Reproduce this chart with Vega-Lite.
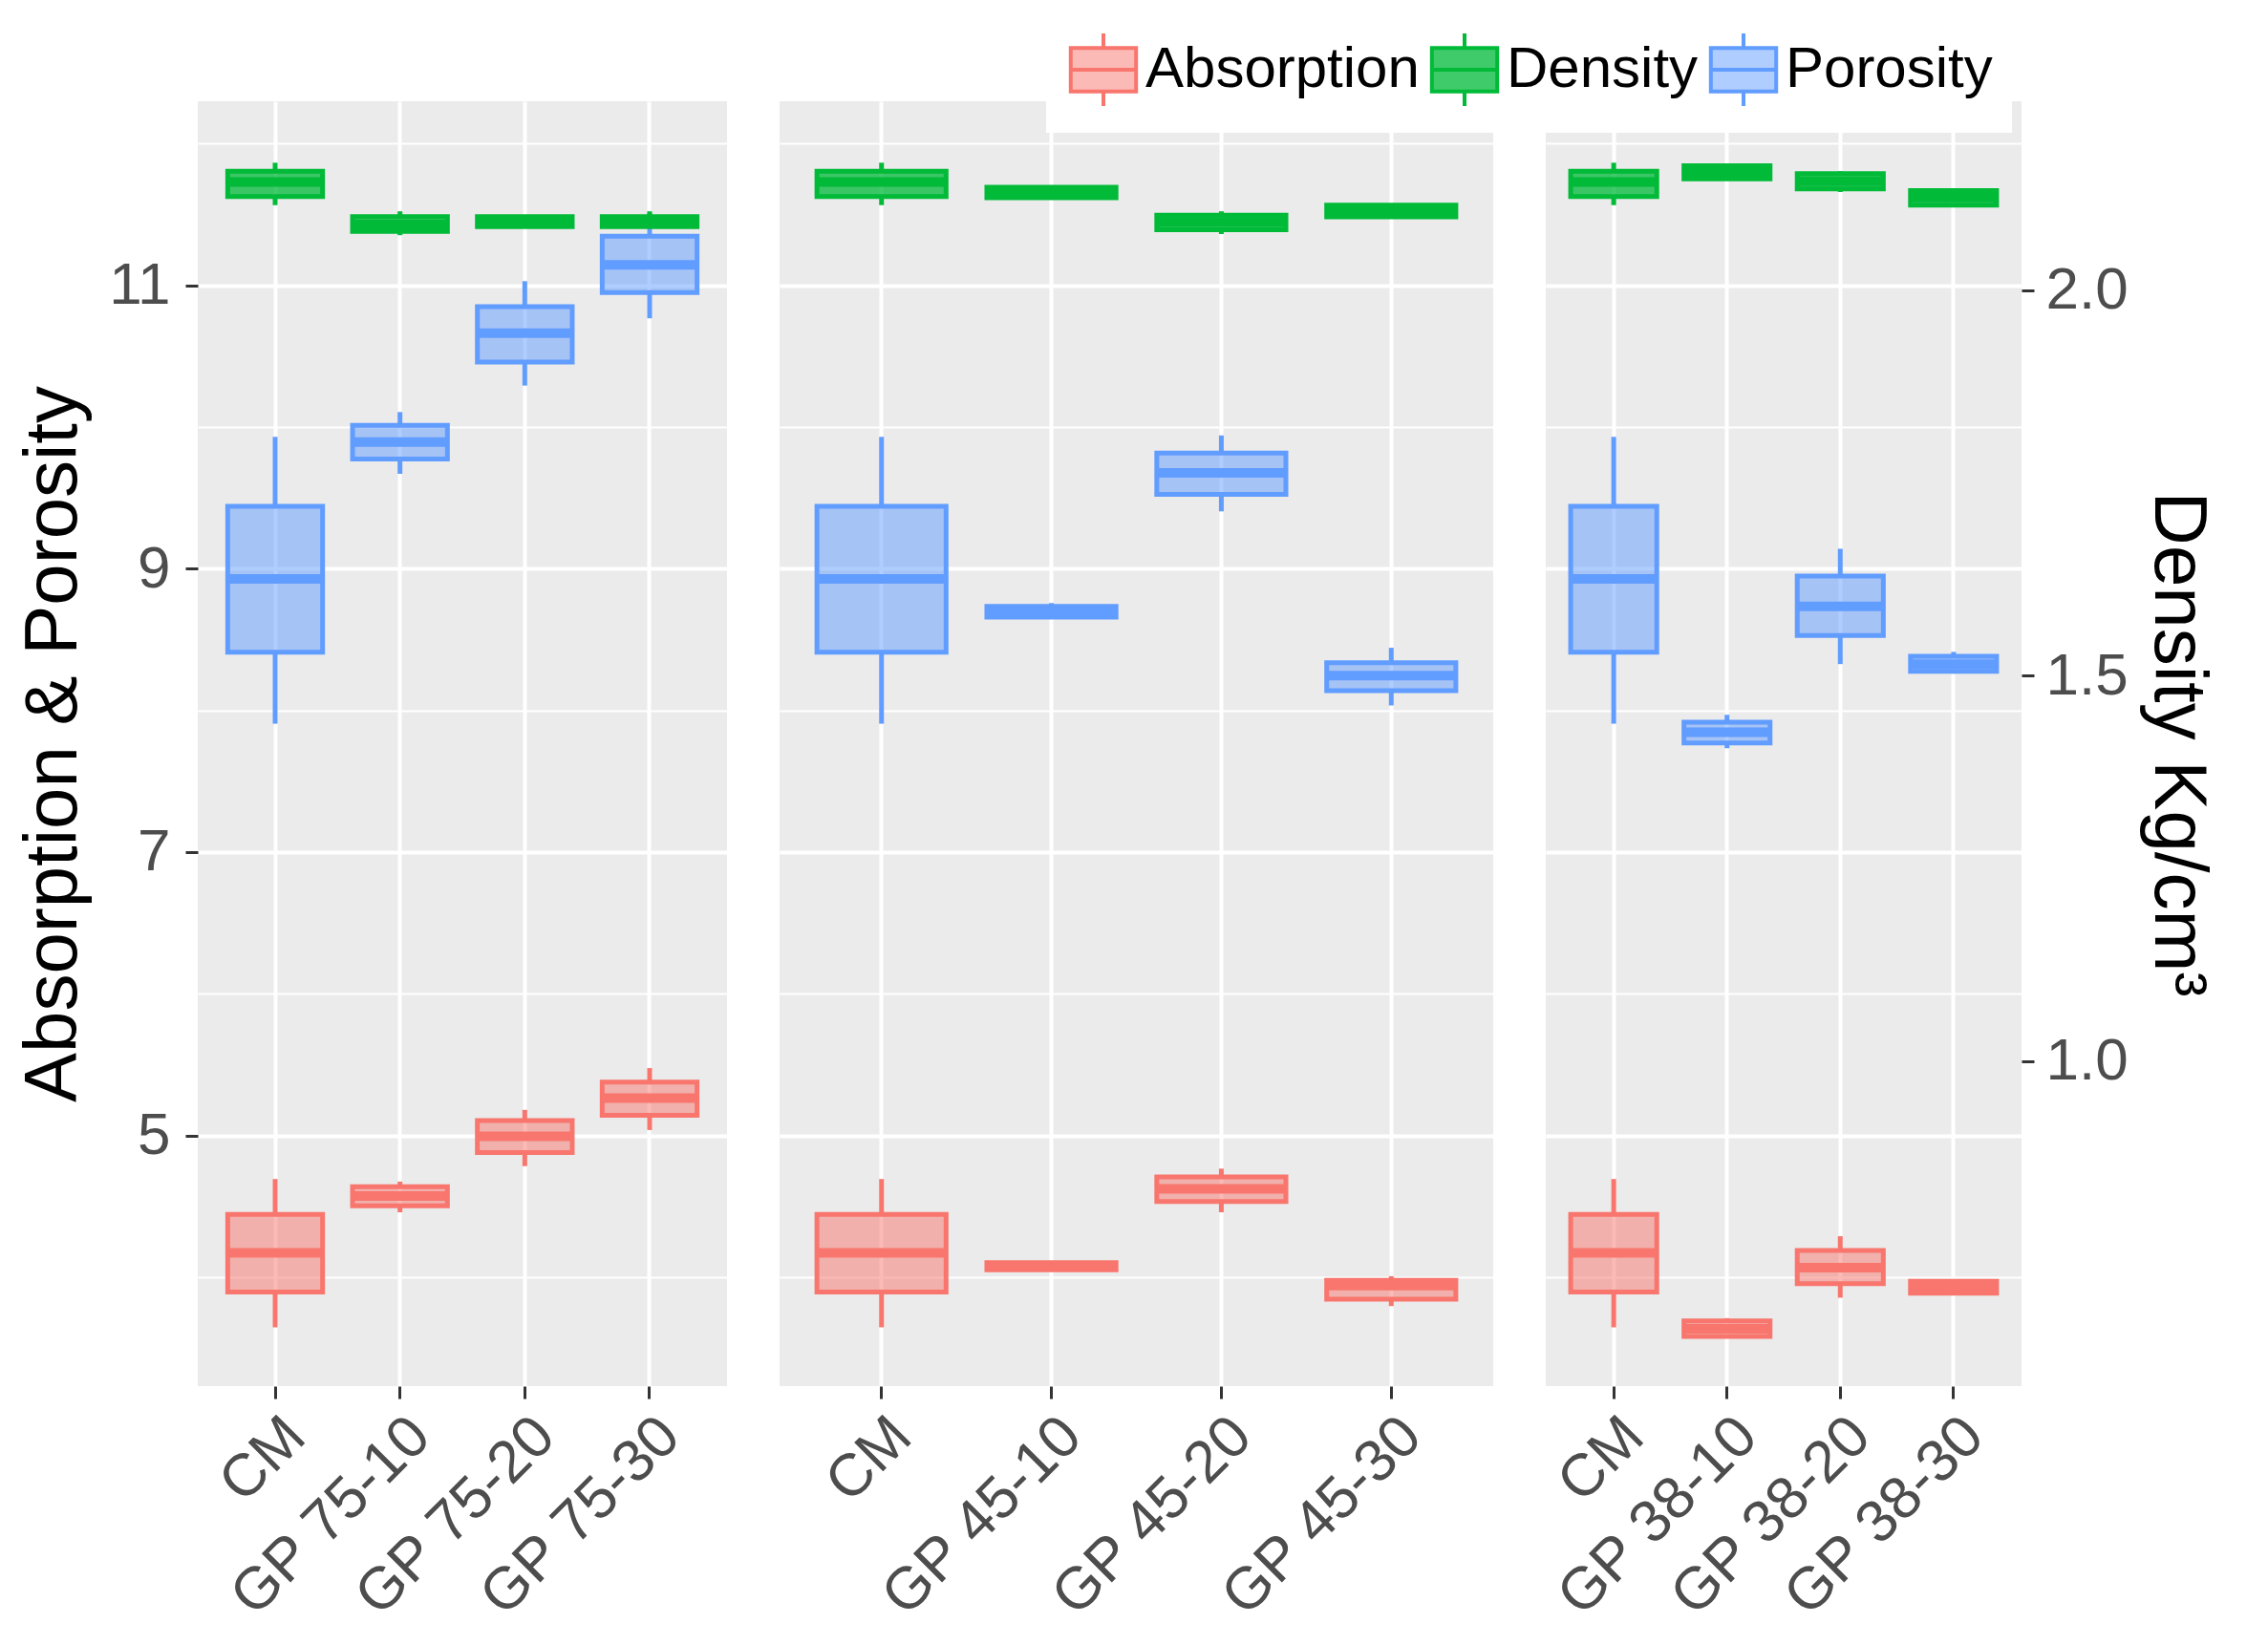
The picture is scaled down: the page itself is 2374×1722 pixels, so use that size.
{
  "$schema": "https://vega.github.io/schema/vega-lite/v6.json",
  "padding": {"left": 17, "top": 13, "right": 10, "bottom": 5},
  "background": "white",
  "config": {
    "font": "Liberation Sans",
    "view": {"fill": "#EBEBEB", "stroke": null},
    "axis": {
      "labelFont": "Liberation Sans", "labelFontSize": 62, "labelColor": "#4D4D4D",
      "titleFont": "Liberation Sans", "titleFontSize": 78, "titleFontWeight": "normal", "titleColor": "black",
      "tickColor": "#333333", "tickWidth": 3, "tickSize": 13, "domain": false, "gridColor": "white", "labelLimit": 1000
    },
    "legend": {
      "orient": "none", "legendX": 888, "legendY": -93, "direction": "horizontal",
      "fillColor": "white", "padding": 20,
      "symbolType": "M-0.9,-0.6H0.9V0.6H-0.9Z M0,-0.6V-1 M0,0.6V1 M-0.9,0H0.9",
      "symbolSize": 5776, "symbolStrokeWidth": 4,
      "labelFontSize": 60, "labelFont": "Liberation Sans", "labelColor": "black",
      "labelOffset": 4, "columnPadding": 4, "zindex": 1, "labelLimit": 1000
    }
  },
  "datasets": {
    "stats": [
      {"panel": "GP75", "group": "CM", "measure": "Absorption", "lower": 3.645, "q1": 3.895, "median": 4.171, "q3": 4.442, "upper": 4.692},
      {"panel": "GP75", "group": "CM", "measure": "Porosity", "lower": 7.906, "q1": 8.411, "median": 8.929, "q3": 9.441, "upper": 9.931},
      {"panel": "GP75", "group": "CM", "measure": "Density", "lower": 2.110, "q1": 2.121, "median": 2.140, "q3": 2.154, "upper": 2.165},
      {"panel": "GP75", "group": "GP 75-10", "measure": "Absorption", "lower": 4.457, "q1": 4.503, "median": 4.572, "q3": 4.638, "upper": 4.674},
      {"panel": "GP75", "group": "GP 75-10", "measure": "Porosity", "lower": 9.670, "q1": 9.775, "median": 9.895, "q3": 10.013, "upper": 10.106},
      {"panel": "GP75", "group": "GP 75-10", "measure": "Density", "lower": 2.071, "q1": 2.076, "median": 2.085, "q3": 2.095, "upper": 2.102},
      {"panel": "GP75", "group": "GP 75-20", "measure": "Absorption", "lower": 4.783, "q1": 4.879, "median": 4.993, "q3": 5.105, "upper": 5.180},
      {"panel": "GP75", "group": "GP 75-20", "measure": "Porosity", "lower": 10.293, "q1": 10.459, "median": 10.663, "q3": 10.850, "upper": 11.030},
      {"panel": "GP75", "group": "GP 75-20", "measure": "Density", "lower": 2.080, "q1": 2.082, "median": 2.088, "q3": 2.095, "upper": 2.097},
      {"panel": "GP75", "group": "GP 75-30", "measure": "Absorption", "lower": 5.038, "q1": 5.141, "median": 5.264, "q3": 5.376, "upper": 5.475},
      {"panel": "GP75", "group": "GP 75-30", "measure": "Porosity", "lower": 10.768, "q1": 10.949, "median": 11.145, "q3": 11.347, "upper": 11.512},
      {"panel": "GP75", "group": "GP 75-30", "measure": "Density", "lower": 2.080, "q1": 2.082, "median": 2.088, "q3": 2.095, "upper": 2.102},

      {"panel": "GP45", "group": "CM", "measure": "Absorption", "lower": 3.645, "q1": 3.895, "median": 4.171, "q3": 4.442, "upper": 4.692},
      {"panel": "GP45", "group": "CM", "measure": "Porosity", "lower": 7.906, "q1": 8.411, "median": 8.929, "q3": 9.441, "upper": 9.931},
      {"panel": "GP45", "group": "CM", "measure": "Density", "lower": 2.110, "q1": 2.121, "median": 2.140, "q3": 2.154, "upper": 2.165},
      {"panel": "GP45", "group": "GP 45-10", "measure": "Absorption", "lower": 4.045, "q1": 4.051, "median": 4.076, "q3": 4.102, "upper": 4.108},
      {"panel": "GP45", "group": "GP 45-10", "measure": "Porosity", "lower": 8.650, "q1": 8.658, "median": 8.697, "q3": 8.734, "upper": 8.758},
      {"panel": "GP45", "group": "GP 45-10", "measure": "Density", "lower": 2.118, "q1": 2.1195, "median": 2.1266, "q3": 2.1333, "upper": 2.135},
      {"panel": "GP45", "group": "GP 45-20", "measure": "Absorption", "lower": 4.457, "q1": 4.533, "median": 4.623, "q3": 4.707, "upper": 4.765},
      {"panel": "GP45", "group": "GP 45-20", "measure": "Porosity", "lower": 9.405, "q1": 9.525, "median": 9.676, "q3": 9.817, "upper": 9.941},
      {"panel": "GP45", "group": "GP 45-20", "measure": "Density", "lower": 2.0725, "q1": 2.078, "median": 2.088, "q3": 2.097, "upper": 2.102},
      {"panel": "GP45", "group": "GP 45-30", "measure": "Absorption", "lower": 3.795, "q1": 3.844, "median": 3.940, "q3": 3.976, "upper": 4.006},
      {"panel": "GP45", "group": "GP 45-30", "measure": "Porosity", "lower": 8.035, "q1": 8.140, "median": 8.245, "q3": 8.336, "upper": 8.442},
      {"panel": "GP45", "group": "GP 45-30", "measure": "Density", "lower": 2.093, "q1": 2.0947, "median": 2.1024, "q3": 2.110, "upper": 2.112},

      {"panel": "GP38", "group": "CM", "measure": "Absorption", "lower": 3.645, "q1": 3.895, "median": 4.171, "q3": 4.442, "upper": 4.692},
      {"panel": "GP38", "group": "CM", "measure": "Porosity", "lower": 7.906, "q1": 8.411, "median": 8.929, "q3": 9.441, "upper": 9.931},
      {"panel": "GP38", "group": "CM", "measure": "Density", "lower": 2.110, "q1": 2.121, "median": 2.140, "q3": 2.154, "upper": 2.165},
      {"panel": "GP38", "group": "GP 38-10", "measure": "Absorption", "lower": 3.575, "q1": 3.581, "median": 3.635, "q3": 3.690, "upper": 3.710},
      {"panel": "GP38", "group": "GP 38-10", "measure": "Porosity", "lower": 7.733, "q1": 7.770, "median": 7.846, "q3": 7.917, "upper": 7.969},
      {"panel": "GP38", "group": "GP 38-10", "measure": "Density", "lower": 2.143, "q1": 2.144, "median": 2.153, "q3": 2.161, "upper": 2.163},
      {"panel": "GP38", "group": "GP 38-20", "measure": "Absorption", "lower": 3.854, "q1": 3.954, "median": 4.067, "q3": 4.188, "upper": 4.288},
      {"panel": "GP38", "group": "GP 38-20", "measure": "Porosity", "lower": 8.327, "q1": 8.529, "median": 8.735, "q3": 8.949, "upper": 9.141},
      {"panel": "GP38", "group": "GP 38-20", "measure": "Density", "lower": 2.127, "q1": 2.131, "median": 2.141, "q3": 2.151, "upper": 2.154},
      {"panel": "GP38", "group": "GP 38-30", "measure": "Absorption", "lower": 3.873, "q1": 3.885, "median": 3.924, "q3": 3.970, "upper": 3.985},
      {"panel": "GP38", "group": "GP 38-30", "measure": "Porosity", "lower": 8.260, "q1": 8.275, "median": 8.327, "q3": 8.382, "upper": 8.413},
      {"panel": "GP38", "group": "GP 38-30", "measure": "Density", "lower": 2.108, "q1": 2.110, "median": 2.120, "q3": 2.129, "upper": 2.131}
    ]
  },
  "data": {"name": "stats"},
  "spacing": 55,
  "resolve": {"scale": {"x": "independent", "y": "independent"}},
  "hconcat": [
    {
      "width": 554, "height": 1345,
      "transform": [{"filter": "datum.panel == 'GP75'"}],
      "encoding": {"x": {"field": "group", "type": "nominal", "sort": ["CM", "GP 75-10", "GP 75-20", "GP 75-30"], "title": null,
        "scale": {"paddingInner": 0, "paddingOuter": 0.12},
        "axis": {"labelAngle": -45, "labelAlign": "right", "labelBaseline": "top", "labelPadding": 8, "grid": true, "gridWidth": 4, "labelOverlap": false}}},
      "layer": [
        {"transform": [{"filter": "datum.measure != 'Density'"}],
         "layer": [
          {"mark": {"type": "rule", "strokeWidth": 5}, "encoding": {
            "y": {"field": "lower", "type": "quantitative", "scale": {"domain": [3.23, 12.3], "nice": false, "zero": false},
              "axis": {"title": "Absorption & Porosity", "values": [4,5,6,7,8,9,10,11,12], "labelExpr": "datum.value % 2 == 1 ? datum.label : ''", "grid": true, "gridWidth": {"condition": {"test": "datum.value % 2 == 1", "value": 4}, "value": 2}, "tickOpacity": {"condition": {"test": "datum.value % 2 == 1", "value": 1}, "value": 0}, "labelPadding": 16, "titlePadding": 18}},
            "y2": {"field": "q1"},
            "stroke": {"field": "measure", "type": "nominal", "title": null, "scale": {"domain": ["Absorption", "Density", "Porosity"], "range": ["#F8766D", "#00BA38", "#619CFF"]}, "legend": {"encode": {"symbols": {"update": {"fillOpacity": {"signal": "datum.value == 'Density' ? 0.75 : 0.5"}, "strokeWidth": {"value": 4}}}}}}}},
          {"mark": {"type": "rule", "strokeWidth": 5}, "encoding": {
            "y": {"field": "q3", "type": "quantitative", "scale": {"domain": [3.23, 12.3], "nice": false, "zero": false},
              "axis": {"title": "Absorption & Porosity", "values": [4,5,6,7,8,9,10,11,12], "labelExpr": "datum.value % 2 == 1 ? datum.label : ''", "grid": true, "gridWidth": {"condition": {"test": "datum.value % 2 == 1", "value": 4}, "value": 2}, "tickOpacity": {"condition": {"test": "datum.value % 2 == 1", "value": 1}, "value": 0}, "labelPadding": 16, "titlePadding": 18}},
            "y2": {"field": "upper"},
            "stroke": {"field": "measure", "type": "nominal", "title": null, "scale": {"domain": ["Absorption", "Density", "Porosity"], "range": ["#F8766D", "#00BA38", "#619CFF"]}, "legend": {"encode": {"symbols": {"update": {"fillOpacity": {"signal": "datum.value == 'Density' ? 0.75 : 0.5"}, "strokeWidth": {"value": 4}}}}}}}},
          {"mark": {"type": "bar", "width": {"band": 0.76}, "fillOpacity": 0.5, "strokeWidth": 5}, "encoding": {
            "y": {"field": "q1", "type": "quantitative", "scale": {"domain": [3.23, 12.3], "nice": false, "zero": false},
              "axis": {"title": "Absorption & Porosity", "values": [4,5,6,7,8,9,10,11,12], "labelExpr": "datum.value % 2 == 1 ? datum.label : ''", "grid": true, "gridWidth": {"condition": {"test": "datum.value % 2 == 1", "value": 4}, "value": 2}, "tickOpacity": {"condition": {"test": "datum.value % 2 == 1", "value": 1}, "value": 0}, "labelPadding": 16, "titlePadding": 18}},
            "y2": {"field": "q3"},
            "fill": {"field": "measure", "type": "nominal", "title": null, "scale": {"domain": ["Absorption", "Density", "Porosity"], "range": ["#F8766D", "#00BA38", "#619CFF"]}, "legend": {"encode": {"symbols": {"update": {"fillOpacity": {"signal": "datum.value == 'Density' ? 0.75 : 0.5"}, "strokeWidth": {"value": 4}}}}}},
            "stroke": {"field": "measure", "type": "nominal", "title": null, "scale": {"domain": ["Absorption", "Density", "Porosity"], "range": ["#F8766D", "#00BA38", "#619CFF"]}, "legend": {"encode": {"symbols": {"update": {"fillOpacity": {"signal": "datum.value == 'Density' ? 0.75 : 0.5"}, "strokeWidth": {"value": 4}}}}}}}},
          {"mark": {"type": "tick", "thickness": 10, "size": 100, "opacity": 1}, "encoding": {
            "y": {"field": "median", "type": "quantitative", "scale": {"domain": [3.23, 12.3], "nice": false, "zero": false},
              "axis": {"title": "Absorption & Porosity", "values": [4,5,6,7,8,9,10,11,12], "labelExpr": "datum.value % 2 == 1 ? datum.label : ''", "grid": true, "gridWidth": {"condition": {"test": "datum.value % 2 == 1", "value": 4}, "value": 2}, "tickOpacity": {"condition": {"test": "datum.value % 2 == 1", "value": 1}, "value": 0}, "labelPadding": 16, "titlePadding": 18}},
            "fill": {"field": "measure", "type": "nominal", "title": null, "scale": {"domain": ["Absorption", "Density", "Porosity"], "range": ["#F8766D", "#00BA38", "#619CFF"]}, "legend": {"encode": {"symbols": {"update": {"fillOpacity": {"signal": "datum.value == 'Density' ? 0.75 : 0.5"}, "strokeWidth": {"value": 4}}}}}}}}
         ]},
        {"transform": [{"filter": "datum.measure == 'Density'"}],
         "layer": [
          {"mark": {"type": "rule", "strokeWidth": 5}, "encoding": {
            "y": {"field": "lower", "type": "quantitative", "scale": {"domain": [0.5785, 2.2447], "nice": false, "zero": false}, "axis": null},
            "y2": {"field": "q1"},
            "stroke": {"field": "measure", "type": "nominal", "title": null, "scale": {"domain": ["Absorption", "Density", "Porosity"], "range": ["#F8766D", "#00BA38", "#619CFF"]}, "legend": {"encode": {"symbols": {"update": {"fillOpacity": {"signal": "datum.value == 'Density' ? 0.75 : 0.5"}, "strokeWidth": {"value": 4}}}}}}}},
          {"mark": {"type": "rule", "strokeWidth": 5}, "encoding": {
            "y": {"field": "q3", "type": "quantitative", "scale": {"domain": [0.5785, 2.2447], "nice": false, "zero": false}, "axis": null},
            "y2": {"field": "upper"},
            "stroke": {"field": "measure", "type": "nominal", "title": null, "scale": {"domain": ["Absorption", "Density", "Porosity"], "range": ["#F8766D", "#00BA38", "#619CFF"]}, "legend": {"encode": {"symbols": {"update": {"fillOpacity": {"signal": "datum.value == 'Density' ? 0.75 : 0.5"}, "strokeWidth": {"value": 4}}}}}}}},
          {"mark": {"type": "bar", "width": {"band": 0.76}, "fillOpacity": 0.75, "strokeWidth": 5}, "encoding": {
            "y": {"field": "q1", "type": "quantitative", "scale": {"domain": [0.5785, 2.2447], "nice": false, "zero": false}, "axis": null},
            "y2": {"field": "q3"},
            "fill": {"field": "measure", "type": "nominal", "title": null, "scale": {"domain": ["Absorption", "Density", "Porosity"], "range": ["#F8766D", "#00BA38", "#619CFF"]}, "legend": {"encode": {"symbols": {"update": {"fillOpacity": {"signal": "datum.value == 'Density' ? 0.75 : 0.5"}, "strokeWidth": {"value": 4}}}}}},
            "stroke": {"field": "measure", "type": "nominal", "title": null, "scale": {"domain": ["Absorption", "Density", "Porosity"], "range": ["#F8766D", "#00BA38", "#619CFF"]}, "legend": {"encode": {"symbols": {"update": {"fillOpacity": {"signal": "datum.value == 'Density' ? 0.75 : 0.5"}, "strokeWidth": {"value": 4}}}}}}}},
          {"mark": {"type": "tick", "thickness": 10, "size": 100, "opacity": 1}, "encoding": {
            "y": {"field": "median", "type": "quantitative", "scale": {"domain": [0.5785, 2.2447], "nice": false, "zero": false}, "axis": null},
            "fill": {"field": "measure", "type": "nominal", "title": null, "scale": {"domain": ["Absorption", "Density", "Porosity"], "range": ["#F8766D", "#00BA38", "#619CFF"]}, "legend": {"encode": {"symbols": {"update": {"fillOpacity": {"signal": "datum.value == 'Density' ? 0.75 : 0.5"}, "strokeWidth": {"value": 4}}}}}}}}
         ]}
      ],
      "resolve": {"scale": {"y": "independent"}}
    },
    {
      "width": 747, "height": 1345,
      "transform": [{"filter": "datum.panel == 'GP45'"}],
      "encoding": {"x": {"field": "group", "type": "nominal", "sort": ["CM", "GP 45-10", "GP 45-20", "GP 45-30"], "title": null,
        "scale": {"paddingInner": 0, "paddingOuter": 0.1},
        "axis": {"labelAngle": -45, "labelAlign": "right", "labelBaseline": "top", "labelPadding": 8, "grid": true, "gridWidth": 4, "labelOverlap": false}}},
      "layer": [
        {"transform": [{"filter": "datum.measure != 'Density'"}],
         "layer": [
          {"mark": {"type": "rule", "strokeWidth": 5}, "encoding": {
            "y": {"field": "lower", "type": "quantitative", "scale": {"domain": [3.23, 12.3], "nice": false, "zero": false},
              "axis": {"title": null, "values": [4,5,6,7,8,9,10,11,12], "labels": false, "ticks": false, "grid": true, "gridWidth": {"condition": {"test": "datum.value % 2 == 1", "value": 4}, "value": 2}}},
            "y2": {"field": "q1"},
            "stroke": {"field": "measure", "type": "nominal", "title": null, "scale": {"domain": ["Absorption", "Density", "Porosity"], "range": ["#F8766D", "#00BA38", "#619CFF"]}, "legend": {"encode": {"symbols": {"update": {"fillOpacity": {"signal": "datum.value == 'Density' ? 0.75 : 0.5"}, "strokeWidth": {"value": 4}}}}}}}},
          {"mark": {"type": "rule", "strokeWidth": 5}, "encoding": {
            "y": {"field": "q3", "type": "quantitative", "scale": {"domain": [3.23, 12.3], "nice": false, "zero": false},
              "axis": {"title": null, "values": [4,5,6,7,8,9,10,11,12], "labels": false, "ticks": false, "grid": true, "gridWidth": {"condition": {"test": "datum.value % 2 == 1", "value": 4}, "value": 2}}},
            "y2": {"field": "upper"},
            "stroke": {"field": "measure", "type": "nominal", "title": null, "scale": {"domain": ["Absorption", "Density", "Porosity"], "range": ["#F8766D", "#00BA38", "#619CFF"]}, "legend": {"encode": {"symbols": {"update": {"fillOpacity": {"signal": "datum.value == 'Density' ? 0.75 : 0.5"}, "strokeWidth": {"value": 4}}}}}}}},
          {"mark": {"type": "bar", "width": {"band": 0.76}, "fillOpacity": 0.5, "strokeWidth": 5}, "encoding": {
            "y": {"field": "q1", "type": "quantitative", "scale": {"domain": [3.23, 12.3], "nice": false, "zero": false},
              "axis": {"title": null, "values": [4,5,6,7,8,9,10,11,12], "labels": false, "ticks": false, "grid": true, "gridWidth": {"condition": {"test": "datum.value % 2 == 1", "value": 4}, "value": 2}}},
            "y2": {"field": "q3"},
            "fill": {"field": "measure", "type": "nominal", "title": null, "scale": {"domain": ["Absorption", "Density", "Porosity"], "range": ["#F8766D", "#00BA38", "#619CFF"]}, "legend": {"encode": {"symbols": {"update": {"fillOpacity": {"signal": "datum.value == 'Density' ? 0.75 : 0.5"}, "strokeWidth": {"value": 4}}}}}},
            "stroke": {"field": "measure", "type": "nominal", "title": null, "scale": {"domain": ["Absorption", "Density", "Porosity"], "range": ["#F8766D", "#00BA38", "#619CFF"]}, "legend": {"encode": {"symbols": {"update": {"fillOpacity": {"signal": "datum.value == 'Density' ? 0.75 : 0.5"}, "strokeWidth": {"value": 4}}}}}}}},
          {"mark": {"type": "tick", "thickness": 10, "size": 135, "opacity": 1}, "encoding": {
            "y": {"field": "median", "type": "quantitative", "scale": {"domain": [3.23, 12.3], "nice": false, "zero": false},
              "axis": {"title": null, "values": [4,5,6,7,8,9,10,11,12], "labels": false, "ticks": false, "grid": true, "gridWidth": {"condition": {"test": "datum.value % 2 == 1", "value": 4}, "value": 2}}},
            "fill": {"field": "measure", "type": "nominal", "title": null, "scale": {"domain": ["Absorption", "Density", "Porosity"], "range": ["#F8766D", "#00BA38", "#619CFF"]}, "legend": {"encode": {"symbols": {"update": {"fillOpacity": {"signal": "datum.value == 'Density' ? 0.75 : 0.5"}, "strokeWidth": {"value": 4}}}}}}}}
         ]},
        {"transform": [{"filter": "datum.measure == 'Density'"}],
         "layer": [
          {"mark": {"type": "rule", "strokeWidth": 5}, "encoding": {
            "y": {"field": "lower", "type": "quantitative", "scale": {"domain": [0.5785, 2.2447], "nice": false, "zero": false}, "axis": null},
            "y2": {"field": "q1"},
            "stroke": {"field": "measure", "type": "nominal", "title": null, "scale": {"domain": ["Absorption", "Density", "Porosity"], "range": ["#F8766D", "#00BA38", "#619CFF"]}, "legend": {"encode": {"symbols": {"update": {"fillOpacity": {"signal": "datum.value == 'Density' ? 0.75 : 0.5"}, "strokeWidth": {"value": 4}}}}}}}},
          {"mark": {"type": "rule", "strokeWidth": 5}, "encoding": {
            "y": {"field": "q3", "type": "quantitative", "scale": {"domain": [0.5785, 2.2447], "nice": false, "zero": false}, "axis": null},
            "y2": {"field": "upper"},
            "stroke": {"field": "measure", "type": "nominal", "title": null, "scale": {"domain": ["Absorption", "Density", "Porosity"], "range": ["#F8766D", "#00BA38", "#619CFF"]}, "legend": {"encode": {"symbols": {"update": {"fillOpacity": {"signal": "datum.value == 'Density' ? 0.75 : 0.5"}, "strokeWidth": {"value": 4}}}}}}}},
          {"mark": {"type": "bar", "width": {"band": 0.76}, "fillOpacity": 0.75, "strokeWidth": 5}, "encoding": {
            "y": {"field": "q1", "type": "quantitative", "scale": {"domain": [0.5785, 2.2447], "nice": false, "zero": false}, "axis": null},
            "y2": {"field": "q3"},
            "fill": {"field": "measure", "type": "nominal", "title": null, "scale": {"domain": ["Absorption", "Density", "Porosity"], "range": ["#F8766D", "#00BA38", "#619CFF"]}, "legend": {"encode": {"symbols": {"update": {"fillOpacity": {"signal": "datum.value == 'Density' ? 0.75 : 0.5"}, "strokeWidth": {"value": 4}}}}}},
            "stroke": {"field": "measure", "type": "nominal", "title": null, "scale": {"domain": ["Absorption", "Density", "Porosity"], "range": ["#F8766D", "#00BA38", "#619CFF"]}, "legend": {"encode": {"symbols": {"update": {"fillOpacity": {"signal": "datum.value == 'Density' ? 0.75 : 0.5"}, "strokeWidth": {"value": 4}}}}}}}},
          {"mark": {"type": "tick", "thickness": 10, "size": 135, "opacity": 1}, "encoding": {
            "y": {"field": "median", "type": "quantitative", "scale": {"domain": [0.5785, 2.2447], "nice": false, "zero": false}, "axis": null},
            "fill": {"field": "measure", "type": "nominal", "title": null, "scale": {"domain": ["Absorption", "Density", "Porosity"], "range": ["#F8766D", "#00BA38", "#619CFF"]}, "legend": {"encode": {"symbols": {"update": {"fillOpacity": {"signal": "datum.value == 'Density' ? 0.75 : 0.5"}, "strokeWidth": {"value": 4}}}}}}}}
         ]}
      ],
      "resolve": {"scale": {"y": "independent"}}
    },
    {
      "width": 498, "height": 1345,
      "transform": [{"filter": "datum.panel == 'GP38'"}],
      "encoding": {"x": {"field": "group", "type": "nominal", "sort": ["CM", "GP 38-10", "GP 38-20", "GP 38-30"], "title": null,
        "scale": {"paddingInner": 0, "paddingOuter": 0.1},
        "axis": {"labelAngle": -45, "labelAlign": "right", "labelBaseline": "top", "labelPadding": 8, "grid": true, "gridWidth": 4, "labelOverlap": false}}},
      "layer": [
        {"transform": [{"filter": "datum.measure != 'Density'"}],
         "layer": [
          {"mark": {"type": "rule", "strokeWidth": 5}, "encoding": {
            "y": {"field": "lower", "type": "quantitative", "scale": {"domain": [3.23, 12.3], "nice": false, "zero": false},
              "axis": {"title": null, "values": [4,5,6,7,8,9,10,11,12], "labels": false, "ticks": false, "grid": true, "gridWidth": {"condition": {"test": "datum.value % 2 == 1", "value": 4}, "value": 2}}},
            "y2": {"field": "q1"},
            "stroke": {"field": "measure", "type": "nominal", "title": null, "scale": {"domain": ["Absorption", "Density", "Porosity"], "range": ["#F8766D", "#00BA38", "#619CFF"]}, "legend": {"encode": {"symbols": {"update": {"fillOpacity": {"signal": "datum.value == 'Density' ? 0.75 : 0.5"}, "strokeWidth": {"value": 4}}}}}}}},
          {"mark": {"type": "rule", "strokeWidth": 5}, "encoding": {
            "y": {"field": "q3", "type": "quantitative", "scale": {"domain": [3.23, 12.3], "nice": false, "zero": false},
              "axis": {"title": null, "values": [4,5,6,7,8,9,10,11,12], "labels": false, "ticks": false, "grid": true, "gridWidth": {"condition": {"test": "datum.value % 2 == 1", "value": 4}, "value": 2}}},
            "y2": {"field": "upper"},
            "stroke": {"field": "measure", "type": "nominal", "title": null, "scale": {"domain": ["Absorption", "Density", "Porosity"], "range": ["#F8766D", "#00BA38", "#619CFF"]}, "legend": {"encode": {"symbols": {"update": {"fillOpacity": {"signal": "datum.value == 'Density' ? 0.75 : 0.5"}, "strokeWidth": {"value": 4}}}}}}}},
          {"mark": {"type": "bar", "width": {"band": 0.76}, "fillOpacity": 0.5, "strokeWidth": 5}, "encoding": {
            "y": {"field": "q1", "type": "quantitative", "scale": {"domain": [3.23, 12.3], "nice": false, "zero": false},
              "axis": {"title": null, "values": [4,5,6,7,8,9,10,11,12], "labels": false, "ticks": false, "grid": true, "gridWidth": {"condition": {"test": "datum.value % 2 == 1", "value": 4}, "value": 2}}},
            "y2": {"field": "q3"},
            "fill": {"field": "measure", "type": "nominal", "title": null, "scale": {"domain": ["Absorption", "Density", "Porosity"], "range": ["#F8766D", "#00BA38", "#619CFF"]}, "legend": {"encode": {"symbols": {"update": {"fillOpacity": {"signal": "datum.value == 'Density' ? 0.75 : 0.5"}, "strokeWidth": {"value": 4}}}}}},
            "stroke": {"field": "measure", "type": "nominal", "title": null, "scale": {"domain": ["Absorption", "Density", "Porosity"], "range": ["#F8766D", "#00BA38", "#619CFF"]}, "legend": {"encode": {"symbols": {"update": {"fillOpacity": {"signal": "datum.value == 'Density' ? 0.75 : 0.5"}, "strokeWidth": {"value": 4}}}}}}}},
          {"mark": {"type": "tick", "thickness": 10, "size": 90, "opacity": 1}, "encoding": {
            "y": {"field": "median", "type": "quantitative", "scale": {"domain": [3.23, 12.3], "nice": false, "zero": false},
              "axis": {"title": null, "values": [4,5,6,7,8,9,10,11,12], "labels": false, "ticks": false, "grid": true, "gridWidth": {"condition": {"test": "datum.value % 2 == 1", "value": 4}, "value": 2}}},
            "fill": {"field": "measure", "type": "nominal", "title": null, "scale": {"domain": ["Absorption", "Density", "Porosity"], "range": ["#F8766D", "#00BA38", "#619CFF"]}, "legend": {"encode": {"symbols": {"update": {"fillOpacity": {"signal": "datum.value == 'Density' ? 0.75 : 0.5"}, "strokeWidth": {"value": 4}}}}}}}}
         ]},
        {"transform": [{"filter": "datum.measure == 'Density'"}],
         "layer": [
          {"mark": {"type": "rule", "strokeWidth": 5}, "encoding": {
            "y": {"field": "lower", "type": "quantitative", "scale": {"domain": [0.5785, 2.2447], "nice": false, "zero": false},
              "axis": {"orient": "right", "title": "Density Kg/cm³", "values": [1, 1.5, 2], "format": ".1f", "grid": false, "labelPadding": 12, "titlePadding": 12}},
            "y2": {"field": "q1"},
            "stroke": {"field": "measure", "type": "nominal", "title": null, "scale": {"domain": ["Absorption", "Density", "Porosity"], "range": ["#F8766D", "#00BA38", "#619CFF"]}, "legend": {"encode": {"symbols": {"update": {"fillOpacity": {"signal": "datum.value == 'Density' ? 0.75 : 0.5"}, "strokeWidth": {"value": 4}}}}}}}},
          {"mark": {"type": "rule", "strokeWidth": 5}, "encoding": {
            "y": {"field": "q3", "type": "quantitative", "scale": {"domain": [0.5785, 2.2447], "nice": false, "zero": false},
              "axis": {"orient": "right", "title": "Density Kg/cm³", "values": [1, 1.5, 2], "format": ".1f", "grid": false, "labelPadding": 12, "titlePadding": 12}},
            "y2": {"field": "upper"},
            "stroke": {"field": "measure", "type": "nominal", "title": null, "scale": {"domain": ["Absorption", "Density", "Porosity"], "range": ["#F8766D", "#00BA38", "#619CFF"]}, "legend": {"encode": {"symbols": {"update": {"fillOpacity": {"signal": "datum.value == 'Density' ? 0.75 : 0.5"}, "strokeWidth": {"value": 4}}}}}}}},
          {"mark": {"type": "bar", "width": {"band": 0.76}, "fillOpacity": 0.75, "strokeWidth": 5}, "encoding": {
            "y": {"field": "q1", "type": "quantitative", "scale": {"domain": [0.5785, 2.2447], "nice": false, "zero": false},
              "axis": {"orient": "right", "title": "Density Kg/cm³", "values": [1, 1.5, 2], "format": ".1f", "grid": false, "labelPadding": 12, "titlePadding": 12}},
            "y2": {"field": "q3"},
            "fill": {"field": "measure", "type": "nominal", "title": null, "scale": {"domain": ["Absorption", "Density", "Porosity"], "range": ["#F8766D", "#00BA38", "#619CFF"]}, "legend": {"encode": {"symbols": {"update": {"fillOpacity": {"signal": "datum.value == 'Density' ? 0.75 : 0.5"}, "strokeWidth": {"value": 4}}}}}},
            "stroke": {"field": "measure", "type": "nominal", "title": null, "scale": {"domain": ["Absorption", "Density", "Porosity"], "range": ["#F8766D", "#00BA38", "#619CFF"]}, "legend": {"encode": {"symbols": {"update": {"fillOpacity": {"signal": "datum.value == 'Density' ? 0.75 : 0.5"}, "strokeWidth": {"value": 4}}}}}}}},
          {"mark": {"type": "tick", "thickness": 10, "size": 90, "opacity": 1}, "encoding": {
            "y": {"field": "median", "type": "quantitative", "scale": {"domain": [0.5785, 2.2447], "nice": false, "zero": false},
              "axis": {"orient": "right", "title": "Density Kg/cm³", "values": [1, 1.5, 2], "format": ".1f", "grid": false, "labelPadding": 12, "titlePadding": 12}},
            "fill": {"field": "measure", "type": "nominal", "title": null, "scale": {"domain": ["Absorption", "Density", "Porosity"], "range": ["#F8766D", "#00BA38", "#619CFF"]}, "legend": {"encode": {"symbols": {"update": {"fillOpacity": {"signal": "datum.value == 'Density' ? 0.75 : 0.5"}, "strokeWidth": {"value": 4}}}}}}}}
         ]}
      ],
      "resolve": {"scale": {"y": "independent"}}
    }
  ]
}
